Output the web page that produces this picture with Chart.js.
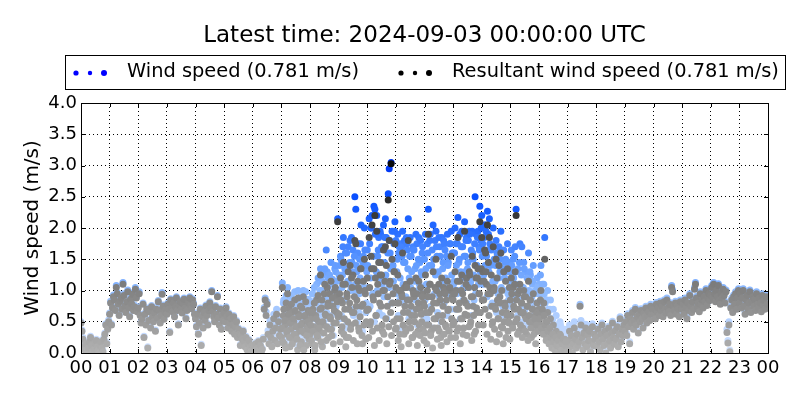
<!DOCTYPE html>
<html lang="en">
<head>
<meta charset="UTF-8">
<title>Wind speed</title>
<script src="https://cdn.jsdelivr.net/npm/chart.js"></script>
<style>
  html, body { margin: 0; padding: 0; background: #fff; }
  #wrap { width: 800px; height: 400px; }
</style>
</head>
<body>
<div id="wrap"><canvas id="myChart" width="800" height="400"></canvas></div>
<script>
// tick labels of the time axis (hours, UTC)
const hourLabels = ['00','01','02','03','04','05','06','07','08','09','10','11','12',
                    '13','14','15','16','17','18','19','20','21','22','23','00'];
// sample minutes inside each hour
const minuteSlots = [0,2,4,6,8,10,12,14,16,18,20,22,24,26,28,30,32,34,36,38,40,42,44,46,48,50,52,54,56,58];
const oddMinuteSlots = [1,3,5,7,9,11,13,15,17,19,21,23,25,27,29,31,33,35,37,39,41,43,45,47,49,51,53,55,57,59];
// hours that also carry odd-minute samples
const oddHours = [7,8,9,10,11,12,13,14,15,16];

// resultant wind speed (m/s), one row per hour, even minutes
const resultantSpeed = [
  [0.48,0.35,0.22,0.10,0.05,0.15,0.02,0.00,0.08,0.18,0.25,0.12,0.03,0.00,0.06,0.15,0.20,0.10,0.04,0.00,0.12,0.18,0.08,0.02,0.22,0.30,0.45,0.15,0.38,0.50],
  [0.62,0.80,0.45,0.72,0.90,0.85,0.68,1.05,0.95,0.78,0.60,0.83,0.88,0.70,1.10,0.92,0.75,0.65,0.82,0.98,0.72,0.58,0.86,0.79,0.94,0.68,0.74,1.02,0.88,0.66],
  [0.72,0.95,0.60,0.48,0.55,0.78,0.25,0.62,0.45,0.70,0.08,0.52,0.66,0.40,0.74,0.58,0.50,0.64,0.35,0.70,0.56,0.82,0.68,0.48,0.60,0.94,0.75,0.54,0.66,0.70],
  [0.62,0.78,0.70,0.33,0.85,0.72,0.66,0.80,0.58,0.74,0.88,0.68,0.45,0.76,0.82,0.70,0.64,0.79,0.86,0.72,0.55,0.68,0.84,0.80,0.88,0.76,0.71,0.85,0.78,0.62],
  [0.55,0.42,0.62,0.30,0.48,0.70,0.12,0.58,0.40,0.65,0.52,0.75,0.60,0.45,0.68,0.80,0.72,0.98,0.66,0.58,0.50,0.74,0.62,0.90,0.56,0.45,0.70,0.38,0.60,0.52],
  [0.65,0.50,0.72,0.58,0.40,0.62,0.48,0.55,0.35,0.45,0.58,0.30,0.42,0.50,0.25,0.38,0.30,0.12,0.28,0.22,0.35,0.18,0.10,0.25,0.05,0.15,0.20,0.08,0.02,0.12],
  [0.05,0.10,0.02,0.15,0.00,0.08,0.18,0.04,0.12,0.00,0.06,0.22,0.70,0.85,0.60,0.78,0.30,0.15,0.45,0.25,0.10,0.35,0.55,0.20,0.40,0.62,0.15,0.50,0.28,0.38],
  [0.25,1.05,0.60,0.15,0.45,0.80,0.30,0.55,0.72,0.10,0.38,0.65,0.20,0.50,0.85,0.28,0.42,0.05,0.62,0.35,0.75,0.18,0.48,0.90,0.32,0.58,0.12,0.40,0.68,0.22],
  [0.30,0.55,0.15,0.70,0.42,0.05,0.60,0.85,0.25,0.50,0.35,1.25,0.72,0.10,0.45,0.95,0.62,0.20,1.05,0.80,0.38,0.58,1.15,0.28,0.75,0.48,1.00,0.90,0.65,2.10],
  [0.60,0.95,1.20,0.35,0.80,1.45,0.55,1.10,0.25,0.90,1.30,0.70,1.40,0.45,1.05,1.25,0.65,1.80,1.75,0.85,1.15,0.40,1.00,1.35,0.75,0.15,1.15,1.50,0.95,0.50],
  [1.20,0.70,1.85,0.45,1.55,2.05,0.90,1.35,2.20,0.60,1.95,1.10,1.45,0.80,1.45,1.25,0.35,1.65,1.00,1.70,1.40,0.75,2.45,1.80,1.15,3.03,1.50,0.95,1.30,1.75],
  [1.05,0.55,1.25,0.80,0.30,1.00,0.95,1.60,0.65,1.05,0.40,1.10,0.85,1.80,0.50,1.15,0.75,0.25,1.00,0.90,0.60,1.20,0.95,0.35,1.15,0.70,1.05,0.50,0.95,0.80],
  [0.75,1.25,0.45,1.00,1.90,0.65,1.10,0.35,0.90,1.30,0.55,1.05,1.50,0.80,0.40,1.10,0.95,0.25,1.20,0.60,1.05,1.00,0.45,0.85,1.15,0.70,0.35,1.00,1.55,0.90],
  [0.85,0.50,1.30,1.00,0.35,1.85,0.70,1.15,0.55,1.25,0.95,0.40,1.95,0.80,1.20,0.60,1.05,1.30,0.45,0.90,1.55,0.75,0.30,1.40,1.20,0.65,1.35,0.95,2.10,1.15],
  [1.85,1.30,0.85,1.65,1.60,1.10,2.05,1.45,1.85,0.95,1.25,0.45,1.70,1.05,0.75,1.50,1.20,0.55,1.40,0.90,1.60,1.00,0.40,1.30,0.80,1.15,0.65,1.35,0.50,1.05],
  [0.85,1.20,0.45,1.05,0.70,1.30,2.20,0.55,0.95,0.35,1.10,0.65,0.80,0.40,1.00,0.60,0.90,0.30,0.75,1.15,0.50,0.85,0.25,0.70,0.95,0.45,0.60,0.35,0.80,0.55],
  [0.70,0.45,1.00,0.60,0.35,0.80,1.50,0.50,0.25,0.65,0.40,0.15,0.55,0.30,0.10,0.45,0.20,0.05,0.35,0.15,0.25,0.08,0.30,0.02,0.18,0.10,0.00,0.22,0.05,0.12],
  [0.05,0.20,0.35,0.10,0.28,0.00,0.15,0.40,0.22,0.08,0.30,0.12,0.18,0.75,0.45,0.25,0.05,0.32,0.15,0.40,0.10,0.28,0.20,0.35,0.02,0.18,0.42,0.12,0.30,0.22],
  [0.25,0.10,0.38,0.18,0.05,0.30,0.45,0.22,0.12,0.35,0.00,0.28,0.15,0.40,0.20,0.08,0.32,0.48,0.25,0.14,0.36,0.22,0.42,0.10,0.30,0.55,0.18,0.38,0.28,0.45],
  [0.35,0.50,0.28,0.60,0.42,0.15,0.55,0.48,0.65,0.38,0.52,0.70,0.45,0.58,0.32,0.62,0.50,0.68,0.55,0.40,0.64,0.58,0.72,0.48,0.60,0.66,0.52,0.75,0.62,0.70],
  [0.62,0.70,0.55,0.78,0.66,0.72,0.60,0.80,0.68,0.75,0.58,0.82,0.70,0.64,0.85,0.72,0.66,0.78,0.60,1.05,0.98,0.74,0.68,0.80,0.62,0.76,0.70,0.58,0.82,0.72],
  [0.70,0.78,0.62,0.85,0.72,0.55,0.80,0.68,0.92,0.75,0.65,0.82,0.70,1.02,1.10,0.88,0.74,0.80,0.66,0.95,0.78,0.85,0.72,0.90,0.82,1.00,0.76,0.88,0.95,0.84],
  [0.92,1.05,0.88,1.10,0.95,0.82,1.00,0.90,1.08,0.85,0.78,0.95,0.88,1.02,0.92,0.80,0.98,0.33,0.16,0.45,0.02,0.72,0.85,0.65,0.90,0.78,0.95,0.70,0.88,1.00],
  [0.80,0.95,0.72,0.88,1.00,0.75,0.62,0.85,0.92,0.70,0.80,0.98,0.65,0.82,0.90,0.75,0.86,0.68,0.95,0.78,0.72,0.88,0.80,0.66,0.92,0.76,0.84,0.70,0.90,0.78]
];

// scalar wind speed (m/s), one row per hour, even minutes
const windSpeed = [
  [0.50,0.37,0.25,0.12,0.07,0.17,0.04,0.02,0.10,0.21,0.27,0.14,0.05,0.02,0.08,0.18,0.22,0.12,0.06,0.02,0.14,0.20,0.10,0.04,0.25,0.32,0.47,0.17,0.41,0.53],
  [0.64,0.83,0.47,0.74,0.93,0.88,0.70,1.08,0.97,0.80,0.62,0.85,0.91,0.72,1.13,0.95,0.77,0.67,0.84,1.01,0.74,0.60,0.89,0.81,0.96,0.70,0.77,1.05,0.90,0.68],
  [0.74,0.98,0.62,0.50,0.57,0.80,0.27,0.64,0.47,0.72,0.10,0.54,0.69,0.42,0.76,0.60,0.52,0.66,0.37,0.73,0.58,0.84,0.70,0.50,0.62,0.97,0.77,0.56,0.68,0.72],
  [0.64,0.80,0.72,0.35,0.87,0.74,0.68,0.82,0.60,0.76,0.90,0.70,0.47,0.78,0.84,0.72,0.66,0.81,0.88,0.74,0.57,0.70,0.86,0.82,0.90,0.78,0.73,0.87,0.80,0.64],
  [0.57,0.44,0.64,0.32,0.50,0.72,0.14,0.60,0.42,0.67,0.54,0.77,0.62,0.47,0.70,0.82,0.74,1.00,0.68,0.60,0.52,0.76,0.64,0.92,0.58,0.47,0.72,0.40,0.62,0.54],
  [0.67,0.52,0.74,0.60,0.42,0.64,0.50,0.57,0.37,0.47,0.60,0.32,0.44,0.52,0.27,0.40,0.32,0.14,0.30,0.24,0.37,0.20,0.12,0.27,0.07,0.17,0.22,0.10,0.04,0.14],
  [0.07,0.12,0.04,0.17,0.02,0.10,0.20,0.06,0.14,0.02,0.08,0.25,0.73,0.88,0.66,0.82,0.36,0.20,0.52,0.30,0.14,0.42,0.62,0.26,0.48,0.70,0.20,0.58,0.34,0.45],
  [0.35,1.12,0.80,0.22,0.62,0.92,0.45,0.72,0.88,0.18,0.55,0.85,0.30,0.70,0.98,0.40,0.60,0.12,0.82,0.50,0.90,0.28,0.66,1.00,0.48,0.78,0.20,0.58,0.86,0.34],
  [0.40,0.75,0.22,0.95,0.60,0.10,0.85,1.10,0.35,0.70,0.55,1.35,1.00,0.15,0.65,1.25,0.90,1.65,1.30,1.20,0.55,0.85,1.45,0.40,1.10,0.75,1.35,1.30,1.00,2.15],
  [0.95,1.40,1.55,0.60,1.25,1.85,0.85,1.60,0.45,1.35,1.70,1.10,1.80,0.70,1.45,1.65,1.00,2.50,2.30,1.30,1.60,0.65,1.50,1.75,1.15,0.35,1.55,2.00,1.40,0.80],
  [1.65,1.05,2.15,0.75,2.00,2.20,1.35,2.35,2.30,0.95,2.20,1.55,1.85,1.20,1.90,1.70,0.60,2.05,1.45,2.15,1.85,1.15,2.55,2.95,1.60,3.05,1.95,1.40,1.75,2.10],
  [1.80,1.30,1.90,1.60,0.85,1.75,1.70,1.95,1.45,1.80,1.05,1.85,1.65,2.15,1.20,1.85,1.55,0.70,1.70,1.65,1.35,1.90,1.75,1.00,1.85,1.45,1.80,1.25,1.70,1.50],
  [1.50,1.90,1.10,1.75,2.30,1.40,1.90,0.90,1.65,2.05,1.30,1.80,1.95,1.55,1.05,1.85,1.70,0.80,1.85,1.35,1.80,1.75,1.20,1.55,1.90,1.45,0.95,1.75,1.95,1.60],
  [1.60,1.15,2.00,1.75,0.95,2.17,1.45,1.90,1.30,1.95,1.70,1.05,2.10,1.55,1.85,1.35,1.80,1.95,1.10,1.65,1.95,1.50,0.85,2.50,1.90,1.40,1.95,1.70,2.35,1.80],
  [2.20,1.75,1.25,2.05,2.05,1.55,2.27,1.90,2.15,1.40,1.65,0.80,2.00,1.50,1.15,1.80,1.60,0.95,1.70,1.30,1.95,1.35,0.75,1.65,1.20,1.50,1.00,1.75,0.85,1.45],
  [1.30,1.65,0.80,1.50,1.10,1.70,2.30,0.95,1.35,0.70,1.75,1.05,1.70,0.75,1.45,1.00,1.30,0.55,1.20,1.60,0.90,1.25,0.50,1.10,1.40,0.80,1.00,0.65,1.20,0.95],
  [1.10,0.80,1.40,0.95,0.60,1.10,1.85,0.85,0.45,1.00,0.70,0.30,0.85,0.55,0.25,0.70,0.40,0.15,0.60,0.30,0.45,0.20,0.50,0.10,0.35,0.20,0.05,0.38,0.12,0.25],
  [0.10,0.30,0.45,0.15,0.38,0.04,0.22,0.50,0.30,0.12,0.38,0.18,0.25,0.78,0.52,0.30,0.08,0.38,0.20,0.46,0.14,0.33,0.25,0.40,0.05,0.22,0.47,0.15,0.34,0.26],
  [0.28,0.13,0.41,0.21,0.08,0.33,0.48,0.25,0.15,0.38,0.03,0.31,0.18,0.43,0.23,0.11,0.35,0.51,0.28,0.17,0.39,0.25,0.45,0.13,0.33,0.58,0.21,0.41,0.31,0.48],
  [0.38,0.53,0.31,0.63,0.45,0.18,0.58,0.51,0.68,0.41,0.55,0.73,0.48,0.61,0.35,0.65,0.53,0.71,0.58,0.43,0.67,0.61,0.75,0.51,0.63,0.69,0.55,0.78,0.65,0.73],
  [0.65,0.73,0.58,0.81,0.69,0.75,0.63,0.83,0.71,0.78,0.61,0.85,0.73,0.67,0.88,0.75,0.69,0.81,0.63,1.08,1.01,0.77,0.71,0.83,0.65,0.79,0.73,0.61,0.85,0.75],
  [0.73,0.81,0.65,0.88,0.75,0.58,0.83,0.71,0.95,0.78,0.68,0.85,0.73,1.05,1.13,0.91,0.77,0.83,0.69,0.98,0.81,0.88,0.75,0.93,0.85,1.03,0.79,0.91,0.98,0.87],
  [0.95,1.08,0.91,1.13,0.98,0.85,1.03,0.93,1.11,0.88,0.81,0.98,0.91,1.05,0.95,0.83,1.01,0.38,0.20,0.50,0.05,0.75,0.88,0.68,0.93,0.81,0.98,0.73,0.91,1.03],
  [0.83,0.98,0.75,0.91,1.03,0.78,0.65,0.88,0.95,0.73,0.83,1.01,0.68,0.85,0.93,0.78,0.89,0.71,0.98,0.81,0.75,0.91,0.83,0.69,0.95,0.79,0.87,0.73,0.93,0.81]
];

// odd-minute samples for the hours in oddHours
const resultantOdd = [
  [0.40,0.18,0.70,0.52,0.08,0.35,0.95,0.62,0.25,0.48,0.78,0.15,0.55,0.30,0.68,0.42,0.22,0.88,0.58,0.12,0.45,0.72,0.35,0.05,0.60,0.82,0.28,0.50,0.38,0.65],
  [0.45,0.20,0.65,0.35,0.80,0.12,0.55,0.28,0.92,0.40,0.70,0.18,0.85,0.50,0.32,1.10,0.60,0.42,0.75,0.25,0.95,0.55,0.38,0.88,0.15,0.68,1.05,0.48,0.82,0.58],
  [0.62,0.18,0.85,0.42,1.10,0.30,0.70,0.10,0.95,0.50,0.25,0.80,0.38,1.20,0.65,0.20,0.90,0.48,0.75,0.15,1.05,0.35,0.58,1.35,0.28,0.78,0.45,1.00,0.22,0.68],
  [0.70,0.25,1.05,0.50,1.35,0.35,0.85,0.12,1.20,0.60,0.40,0.95,0.20,1.25,0.75,0.45,1.00,0.30,1.15,0.55,0.15,0.90,0.42,1.10,0.65,0.28,0.80,0.50,1.30,0.38],
  [0.40,0.80,0.20,1.00,0.55,0.10,0.90,0.45,0.30,0.75,0.35,1.05,0.65,0.15,0.85,0.40,0.60,0.25,0.95,0.50,0.30,0.70,0.12,0.80,0.45,0.28,0.62,0.90,0.38,0.20],
  [0.32,0.65,0.15,0.90,0.45,1.10,0.28,0.70,0.08,0.80,0.40,0.55,1.00,0.22,0.60,0.35,0.85,0.12,0.50,0.75,0.30,0.95,0.42,0.18,0.68,0.36,1.05,0.25,0.55,0.45],
  [0.48,0.95,0.25,0.70,1.15,0.40,0.80,0.15,1.00,0.55,0.30,0.85,0.62,1.10,0.28,0.75,0.42,1.25,0.50,0.20,0.90,0.60,1.05,0.35,0.72,1.20,0.45,0.95,0.65,1.35],
  [0.85,0.45,1.15,0.70,1.30,0.30,0.95,0.60,1.05,0.22,0.75,0.50,1.00,0.38,0.70,0.18,0.85,0.55,0.30,0.80,0.42,0.65,0.15,0.50,0.75,0.25,0.60,0.35,0.48,0.22],
  [0.60,0.95,0.40,0.75,1.10,0.50,0.85,0.30,0.70,1.00,0.45,0.80,0.25,0.65,0.90,0.35,0.55,0.75,0.20,0.60,0.85,0.40,0.50,0.70,0.30,0.55,0.15,0.45,0.65,0.35],
  [0.55,0.85,0.40,0.70,0.30,0.60,0.45,0.20,0.50,0.35,0.15,0.40,0.25,0.08,0.30,0.18,0.05,0.25,0.12,0.00,0.20,0.10,0.28,0.04,0.15,0.22,0.06,0.12,0.18,0.02]
];
const windOdd = [
  [0.55,0.30,0.85,0.70,0.15,0.52,1.05,0.80,0.38,0.66,0.92,0.25,0.74,0.45,0.85,0.60,0.35,1.00,0.78,0.20,0.62,0.88,0.52,0.12,0.80,0.98,0.42,0.70,0.55,0.84],
  [0.65,0.35,0.95,0.55,1.05,0.25,0.80,0.45,1.20,0.62,1.00,0.30,1.15,0.78,0.50,1.35,0.90,0.65,1.05,0.42,1.25,0.85,0.60,1.18,0.28,1.00,1.40,0.75,1.15,0.92],
  [1.25,0.55,1.50,1.05,1.70,0.85,1.35,0.40,1.60,1.15,0.70,1.45,1.00,1.85,1.30,0.60,1.55,1.10,1.40,0.50,1.75,0.95,1.20,2.05,0.75,1.45,1.05,1.65,0.65,1.30],
  [1.40,0.70,1.75,1.20,2.00,0.95,1.55,0.50,1.90,1.30,1.00,1.65,0.65,1.95,1.45,1.10,1.70,0.90,1.85,1.25,0.55,1.60,1.05,1.80,1.35,0.80,1.50,1.15,1.95,1.00],
  [0.95,1.50,0.60,1.70,1.20,0.40,1.55,1.10,0.80,1.45,0.90,1.75,1.35,0.55,1.55,1.05,1.30,0.70,1.65,1.15,0.85,1.40,0.45,1.50,1.10,0.75,1.30,1.60,0.95,0.60],
  [0.85,1.35,0.55,1.60,1.10,1.80,0.75,1.40,0.40,1.50,0.95,1.25,1.70,0.65,1.30,0.90,1.55,0.50,1.15,1.45,0.80,1.65,1.05,0.60,1.40,0.95,1.75,0.70,1.25,1.05],
  [1.10,1.60,0.70,1.40,1.75,1.00,1.50,0.55,1.70,1.20,0.85,1.55,1.30,1.80,0.80,1.45,1.05,1.90,1.15,0.60,1.60,1.25,1.75,0.95,1.40,1.85,1.10,1.65,1.30,2.00],
  [1.55,1.10,1.85,1.40,1.95,0.90,1.65,1.30,1.75,0.75,1.45,1.15,1.70,1.00,1.40,0.65,1.55,1.20,0.90,1.50,1.05,1.35,0.60,1.20,1.45,0.80,1.30,0.95,1.15,0.75],
  [1.00,1.40,0.75,1.20,1.55,0.90,1.30,0.60,1.10,1.45,0.85,1.25,0.50,1.05,1.35,0.70,0.95,1.20,0.45,1.00,1.30,0.75,0.90,1.15,0.60,0.95,0.35,0.80,1.05,0.65],
  [0.95,1.25,0.75,1.10,0.60,0.95,0.80,0.45,0.85,0.65,0.35,0.70,0.50,0.20,0.55,0.35,0.12,0.45,0.25,0.04,0.35,0.20,0.45,0.08,0.28,0.38,0.12,0.22,0.30,0.06]
];

const titleText = 'Latest time: 2024-09-03 00:00:00 UTC';
const legendLabels = ['Wind speed (0.781 m/s)', 'Resultant wind speed (0.781 m/s)'];
const yTitle = 'Wind speed (m/s)';

const FONT = '"DejaVu Sans", Verdana, sans-serif';

// turn hour rows into {x, y} points, x in hours
function toPoints(rows, slots, hours) {
  const pts = [];
  rows.forEach((row, r) => {
    const h = hours ? hours[r] : r;
    row.forEach((v, i) => pts.push({ x: h + slots[i] / 60, y: v }));
  });
  return pts;
}

// colour ramps, darker for higher speeds
function lerpStops(stops, v) {
  if (v <= stops[0][0]) return stops[0].slice(1);
  for (let i = 1; i < stops.length; i++) {
    if (v <= stops[i][0]) {
      const a = stops[i - 1], b = stops[i];
      const t = (v - a[0]) / (b[0] - a[0]);
      return [1, 2, 3].map(k => Math.round(a[k] + (b[k] - a[k]) * t));
    }
  }
  return stops[stops.length - 1].slice(1);
}
const greyStops = [[0,178,178,178],[1,130,130,130],[1.5,100,100,100],[2,68,68,68],[2.5,40,40,40],[3,10,10,10]];
const blueStops = [[0,212,228,255],[0.5,182,210,255],[1,140,185,255],[1.5,90,150,255],[2,35,105,255],[2.5,10,80,255],[3,0,55,245]];
function rgb(c) { return 'rgb(' + c.join(',') + ')'; }

// title, legend box, frame and inward ticks
const decorPlugin = {
  id: 'decor',
  afterDraw(chart) {
    const ctx = chart.ctx;
    const area = chart.chartArea;
    const xs = chart.scales.x, ys = chart.scales.y;
    ctx.save();

    // title
    ctx.fillStyle = '#000';
    ctx.font = '23px ' + FONT;
    ctx.textAlign = 'center';
    ctx.textBaseline = 'alphabetic';
    ctx.fillText(titleText, (area.left + area.right) / 2, 42);

    // legend
    ctx.strokeStyle = '#000';
    ctx.lineWidth = 1;
    ctx.strokeRect(65.5, 55.5, 720, 34);
    ctx.font = '19.4px ' + FONT;
    ctx.textAlign = 'left';
    ctx.textBaseline = 'middle';
    const dotSets = [[76, 'rgb(0,0,255)', 127], [401, '#000', 452]];
    dotSets.forEach((d, k) => {
      ctx.fillStyle = d[1];
      [[0, 2.6], [14, 2.2], [28, 3.0]].forEach(p => {
        ctx.beginPath();
        ctx.arc(d[0] + p[0], 73, p[1], 0, Math.PI * 2);
        ctx.fill();
      });
      ctx.fillStyle = '#000';
      ctx.fillText(legendLabels[k], d[2], 72);
    });

    // frame
    ctx.strokeRect(Math.round(area.left) + 0.5, Math.round(area.top) + 0.5,
      Math.round(area.right - area.left), Math.round(area.bottom - area.top));

    // inward ticks
    ctx.beginPath();
    for (let h = 0; h <= 24; h++) {
      const px = Math.round(xs.getPixelForValue(h)) + 0.5;
      ctx.moveTo(px, area.bottom); ctx.lineTo(px, area.bottom - 4);
      ctx.moveTo(px, area.top); ctx.lineTo(px, area.top + 4);
    }
    for (let v = 0; v <= 4; v += 0.5) {
      const py = Math.round(ys.getPixelForValue(v)) + 0.5;
      ctx.moveTo(area.left, py); ctx.lineTo(area.left + 4, py);
      ctx.moveTo(area.right, py); ctx.lineTo(area.right - 4, py);
    }
    ctx.stroke();
    ctx.restore();
  }
};

const gridLook = {
  color: '#000',
  lineWidth: 1,
  drawTicks: false
};

const resultantPoints = toPoints(resultantSpeed, minuteSlots).concat(toPoints(resultantOdd, oddMinuteSlots, oddHours));
const windPoints = toPoints(windSpeed, minuteSlots).concat(toPoints(windOdd, oddMinuteSlots, oddHours));

new Chart(document.getElementById('myChart'), {
  type: 'scatter',
  data: {
    datasets: [
      {
        label: legendLabels[1],
        data: resultantPoints,
        order: 0,
        pointRadius: 3.5,
        pointBorderWidth: 0,
        pointBackgroundColor: c => rgb(lerpStops(greyStops, c.raw ? c.raw.y : 0))
      },
      {
        label: legendLabels[0],
        data: windPoints,
        order: 1,
        pointRadius: 3.5,
        pointBorderWidth: 0,
        pointBackgroundColor: c => rgb(lerpStops(blueStops, c.raw ? c.raw.y : 0))
      }
    ]
  },
  options: {
    responsive: false,
    animation: false,
    events: [],
    layout: { padding: { left: 0, top: 103, right: 32, bottom: 0 } },
    plugins: {
      legend: { display: false },
      tooltip: { enabled: false },
      title: { display: false }
    },
    scales: {
      x: {
        type: 'linear',
        min: 0,
        max: 24,
        afterFit: s => { s.height = 47; },
        grid: gridLook,
        border: { display: false, dash: [1, 3] },
        ticks: {
          stepSize: 1,
          autoSkip: false,
          maxRotation: 0,
          padding: 5,
          color: '#000',
          font: { family: FONT, size: 18 },
          callback: v => hourLabels[v]
        }
      },
      y: {
        min: 0,
        max: 4,
        afterFit: s => { s.width = 81; },
        grid: gridLook,
        border: { display: false, dash: [1, 3] },
        title: {
          display: true,
          text: yTitle,
          color: '#000',
          font: { family: FONT, size: 20 },
          padding: { top: 21, bottom: 0 }
        },
        ticks: {
          stepSize: 0.5,
          padding: 4,
          color: '#000',
          font: { family: FONT, size: 18 },
          callback: v => v.toFixed(1)
        }
      }
    }
  },
  plugins: [decorPlugin]
});
</script>
</body>
</html>
